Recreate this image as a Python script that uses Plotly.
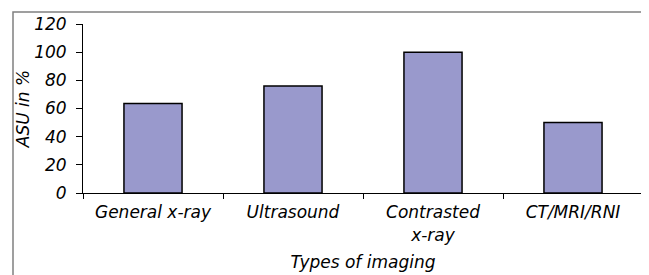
import plotly.graph_objects as go

categories = ["General x-ray", "Ultrasound", "Contrasted<br>x-ray", "CT/MRI/RNI"]
values = [63.5, 76, 100, 50]
y_ticks = [0, 20, 40, 60, 80, 100, 120]

# page body has an 8px margin: build the figure in shifted pixel coordinates
OFF = 8
W, H = 649 - OFF, 275 - OFF
L, R, T, B = 83 - OFF, 6, 24 - OFF, 82
pw = W - L - R
ph = H - T - B

fig = go.Figure(go.Bar(
    x=categories, y=values,
    marker=dict(color="#9999CC", line=dict(color="black", width=1.5)),
    width=0.415,
))

font = dict(family="DejaVu Sans", size=17, color="black", style="italic")


def px_to_paper_x(p):
    return (p - OFF - L) / pw


def px_to_paper_y(p):
    return (H - B - (p - OFF)) / ph


fig.update_layout(
    width=W, height=H,
    margin=dict(l=L, r=R, t=T, b=B, autoexpand=False),
    paper_bgcolor="white", plot_bgcolor="white",
    showlegend=False,
    font=font,
    xaxis=dict(
        type="category", range=[-0.5, 3.5], automargin=False,
        showline=True, linecolor="black", linewidth=1,
        ticks="outside", tickson="boundaries", ticklen=5, tickcolor="black",
        tickfont=font, showgrid=False, ticklabelstandoff=4,
        title=dict(text="Types of imaging", font=font, standoff=12),
    ),
    yaxis=dict(
        range=[0, 120], tickvals=y_ticks, automargin=False,
        showline=True, linecolor="black", linewidth=1,
        ticks="outside", ticklen=6, tickcolor="black",
        tickfont=font, showgrid=False, zeroline=False, ticklabelstandoff=6,
        title=dict(text="ASU in %", font=font, standoff=0),
    ),
    shapes=[dict(
        type="rect", xref="paper", yref="paper",
        x0=px_to_paper_x(13), x1=px_to_paper_x(646),
        y0=px_to_paper_y(300), y1=px_to_paper_y(12),
        line=dict(color="#808080", width=1.5), fillcolor="rgba(0,0,0,0)",
        layer="below",
    )],
)

fig.write_html("out.html")
